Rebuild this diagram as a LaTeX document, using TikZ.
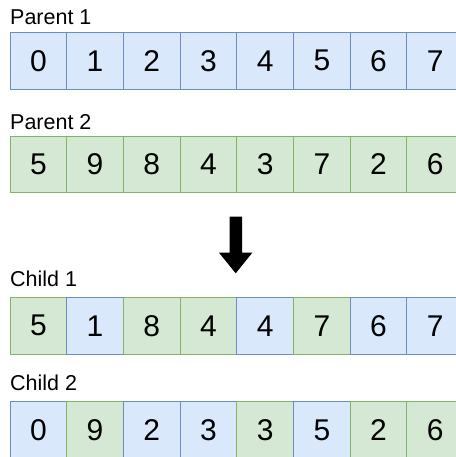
\documentclass[tikz,border=0pt]{standalone}
\usepackage{fontspec}
\setmainfont{Liberation Sans}
\newcommand{\cellSize}[0]{56.7pt}
\newcommand{\cellStep}[0]{56.7}
\definecolor{blueFill}{HTML}{DAE8FC}
\definecolor{blueLine}{HTML}{6C8EBF}
\definecolor{greenFill}{HTML}{D5E8D4}
\definecolor{greenLine}{HTML}{82B366}

\begin{document}
\begin{tikzpicture}[x=1pt, y=-1pt]
  \tikzset{
    cell/.style={minimum width=\cellSize, minimum height=\cellSize, inner sep=0pt, line width=0.9pt, font=\fontsize{30}{30}\selectfont},
    cell-b/.style={cell, draw=blueLine, fill=blueFill},
    cell-g/.style={cell, draw=greenLine, fill=greenFill},
    row label/.style={anchor=base west, inner sep=0pt, font=\fontsize{21.5}{24}\selectfont}
  }
  \useasboundingbox (0,0) rectangle (455,457);
  \node[row label] (label-P1) at (10,25) {Parent 1};
  \foreach \v/\c [count=\i from 0] in {0/b,1/b,2/b,3/b,4/b,5/b,6/b,7/b}
    \node[cell-\c] (P1-\i) at (38.35+\cellStep*\i, 60.7) {\v};
  \node[row label] (label-P2) at (10,130) {Parent 2};
  \foreach \v/\c [count=\i from 0] in {5/g,9/g,8/g,4/g,3/g,7/g,2/g,6/g}
    \node[cell-\c] (P2-\i) at (38.35+\cellStep*\i, 164.4) {\v};
  \fill[black] (229.5,216.7) -- (242,216.7) -- (242,252.7) -- (252.3,252.7)
    -- (235.7,273.3) -- (219,252.7) -- (229.5,252.7) -- cycle;
  \node[row label] (label-C1) at (10,286.7) {Child 1};
  \foreach \v/\c [count=\i from 0] in {5/g,1/b,8/g,4/g,4/b,7/g,6/b,7/b}
    \node[cell-\c] (C1-\i) at (38.35+\cellStep*\i, 325.7) {\v};
  \node[row label] (label-C2) at (10,390.7) {Child 2};
  \foreach \v/\c [count=\i from 0] in {0/b,9/g,2/b,3/b,3/g,5/b,2/g,6/g}
    \node[cell-\c] (C2-\i) at (38.35+\cellStep*\i, 430.1) {\v};
\end{tikzpicture}
\end{document}
